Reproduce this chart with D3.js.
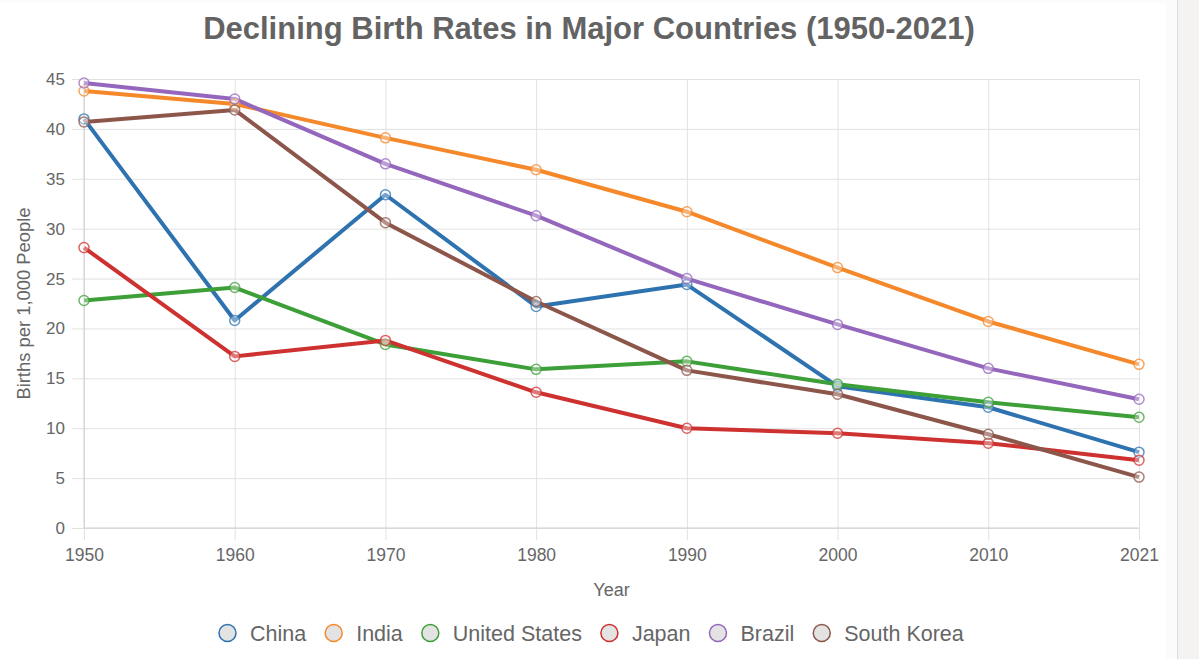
<!DOCTYPE html>
<html>
<head>
<meta charset="utf-8">
<script src="https://cdn.jsdelivr.net/npm/d3@7"></script>
<style>
  html, body { margin: 0; padding: 0; background: #f4f3f2; }
  #chart { width: 1199px; height: 659px; }
  svg { display: block; font-family: "Liberation Sans", Arial, Helvetica, sans-serif; }
</style>
</head>
<body>
<div id="chart"></div>
<script>
// données
const years = ["1950", "1960", "1970", "1980", "1990", "2000", "2010", "2021"];
const countries = ["China", "India", "United States", "Japan", "Brazil", "South Korea"];
const colors = ["#2e73b0", "#f5882a", "#3c9f37", "#cd3230", "#9467bd", "#8c564b"];

const china = [41.0, 20.8, 33.4, 22.2, 24.4, 14.2, 12.1, 7.6];
const india = [43.8, 42.5, 39.1, 35.9, 31.7, 26.1, 20.7, 16.4];
const unitedStates = [22.8, 24.1, 18.4, 15.9, 16.7, 14.4, 12.6, 11.1];
const japan = [28.1, 17.2, 18.8, 13.6, 10.0, 9.5, 8.5, 6.8];
const brazil = [44.6, 43.0, 36.5, 31.3, 25.0, 20.4, 16.0, 12.9];
const southKorea = [40.7, 41.9, 30.6, 22.7, 15.8, 13.4, 9.4, 5.1];

const yTicks = [0, 5, 10, 15, 20, 25, 30, 35, 40, 45];

const seriesValues = [china, india, unitedStates, japan, brazil, southKorea];

function drawChart() {
    const width = 1199, height = 659;
    const margin = { left: 84, right: 60, top: 79, bottom: 131 };

    const svg = d3.select("#chart").append("svg")
        .attr("width", width)
        .attr("height", height);

    // fond de la page
    svg.append("rect").attr("x", 0).attr("y", 0).attr("width", width).attr("height", height).attr("fill", "#f4f3f2");
    svg.append("rect").attr("x", 0).attr("y", 0).attr("width", 1178).attr("height", height).attr("fill", "#fbfbfb");
    svg.append("rect").attr("x", 0).attr("y", 3).attr("width", 1166).attr("height", height - 3).attr("fill", "#ffffff");
    svg.append("line").attr("x1", 1177.5).attr("x2", 1177.5).attr("y1", 0).attr("y2", height)
        .attr("stroke", "#dcdcdc").attr("stroke-width", 1);

    const x = d3.scalePoint()
        .domain(years)
        .range([margin.left, width - margin.right]);

    const y = d3.scaleLinear()
        .domain([0, 45])
        .range([height - margin.bottom, margin.top]);

    // grille horizontale
    svg.append("g")
        .attr("transform", `translate(${margin.left},0)`)
        .call(d3.axisLeft(y).tickValues(yTicks).tickSize(12).tickPadding(7))
        .call(g => g.select(".domain").remove())
        .call(g => g.selectAll(".tick line").clone()
            .attr("x2", width - margin.right - margin.left))
        .call(g => g.selectAll(".tick line").attr("stroke", "#e1e1e1").attr("stroke-width", 1))
        .call(g => g.selectAll(".tick text").attr("fill", "#666").attr("font-size", 17));

    // grille verticale
    svg.append("g")
        .attr("transform", `translate(0,${height - margin.bottom})`)
        .call(d3.axisBottom(x).tickSize(12).tickPadding(9))
        .call(g => g.select(".domain").remove())
        .call(g => g.selectAll(".tick line").clone()
            .attr("y2", -(height - margin.bottom - margin.top)))
        .call(g => g.selectAll(".tick line").attr("stroke", "#e1e1e1").attr("stroke-width", 1))
        .call(g => g.selectAll(".tick text").attr("fill", "#666").attr("font-size", 17.5));

    // lignes des axes
    svg.append("line")
        .attr("x1", margin.left).attr("x2", margin.left)
        .attr("y1", margin.top).attr("y2", height - margin.bottom)
        .attr("stroke", "#cfcfcf");
    svg.append("line")
        .attr("x1", margin.left).attr("x2", width - margin.right)
        .attr("y1", height - margin.bottom).attr("y2", height - margin.bottom)
        .attr("stroke", "#cfcfcf");

    const line = d3.line()
        .x((d, i) => x(years[i]))
        .y(d => y(d));

    seriesValues.forEach((vals, k) => {
        svg.append("path")
            .datum(vals)
            .attr("fill", "none")
            .attr("stroke", colors[k])
            .attr("stroke-width", 4)
            .attr("stroke-linejoin", "round")
            .attr("d", line);
    });

    seriesValues.forEach((vals, k) => {
        svg.append("g").selectAll("circle")
            .data(vals)
            .enter().append("circle")
            .attr("cx", (d, i) => x(years[i]))
            .attr("cy", d => y(d))
            .attr("r", 5)
            .attr("fill", "rgba(255,255,255,0.35)")
            .attr("stroke", colors[k])
            .attr("stroke-opacity", 0.75)
            .attr("stroke-width", 1.5);
    });

    // titre
    svg.append("text")
        .attr("x", 589)
        .attr("y", 39)
        .attr("text-anchor", "middle")
        .attr("font-size", 31)
        .attr("font-weight", "bold")
        .attr("fill", "#636363")
        .text("Declining Birth Rates in Major Countries (1950-2021)");

    svg.append("text")
        .attr("x", (margin.left + width - margin.right) / 2)
        .attr("y", 596)
        .attr("text-anchor", "middle")
        .attr("font-size", 18)
        .attr("fill", "#666")
        .text("Year");

    svg.append("text")
        .attr("transform", `translate(30,${(margin.top + height - margin.bottom) / 2}) rotate(-90)`)
        .attr("text-anchor", "middle")
        .attr("font-size", 18.4)
        .attr("fill", "#666")
        .text("Births per 1,000 People");

    // légende
    const legend = svg.append("g").attr("transform", "translate(0,633)");
    let lx = 219;
    countries.forEach((name, k) => {
        const item = legend.append("g").attr("transform", `translate(${lx},0)`);
        item.append("circle")
            .attr("cx", 8.5).attr("cy", 0).attr("r", 8.5)
            .attr("fill", "#e3e3e3")
            .attr("stroke", colors[k])
            .attr("stroke-width", 1.5);
        const t = item.append("text")
            .attr("x", 31).attr("y", 7.5)
            .attr("font-size", 21.5)
            .attr("fill", "#666")
            .text(name);
        lx += 31 + t.node().getComputedTextLength() + 19;
    });
}

drawChart();
</script>
</body>
</html>
